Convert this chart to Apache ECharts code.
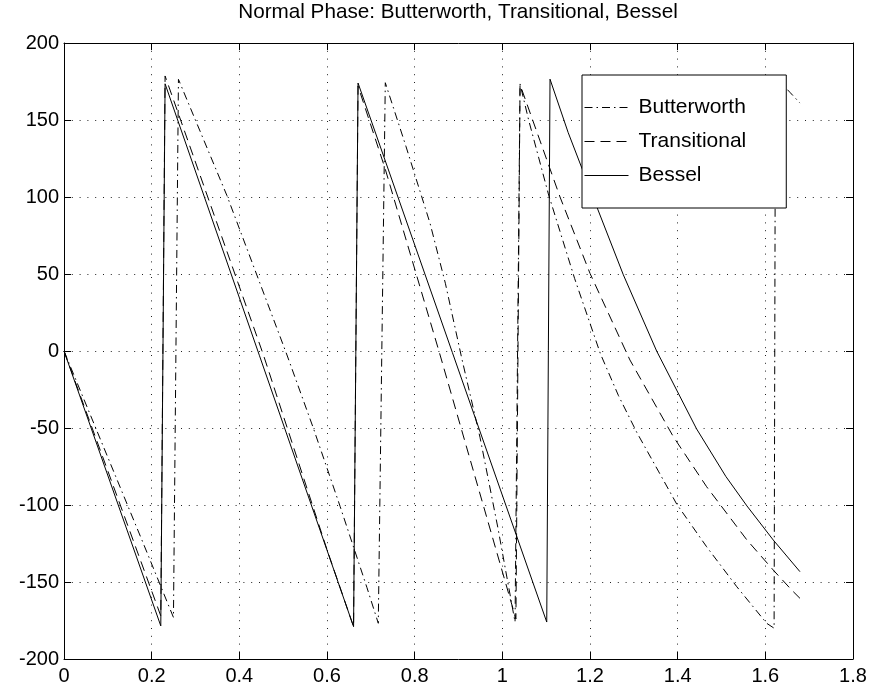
<!DOCTYPE html>
<html lang="en">

<head>
    <meta charset="UTF-8">
    <title>Normal Phase</title>
    <script src="https://cdn.jsdelivr.net/npm/echarts@6/dist/echarts.min.js"></script>
    <style>
        html, body { margin: 0; padding: 0; background: #fff; }
    </style>
</head>

<body>
    <div id="main" style="width: 874px; height: 693px;"></div>
    <script type="text/javascript">
        // phase (degrees) against normalised frequency
        var butterX = [0, 0.181, 0.2497, 0.2611, 0.3716, 0.5087, 0.569, 0.630, 0.691, 0.717, 0.733, 0.78, 0.835, 0.87, 0.9074, 0.949, 0.99, 1.029, 1.0404, 1.06, 1.105, 1.165, 1.224, 1.265, 1.307, 1.356, 1.398, 1.466, 1.535, 1.603, 1.620, 1.623, 1.656, 1.679];
        var butterY = [0, -125, -173, 176.4, 101, -2.6, -50.2, -101, -153.5, -176.8, 174.2, 133, 83, 44, -4.7, -56, -115, -176, 173.4, 150, 102, 47, -2, -29, -53, -78, -99.5, -127.1, -153.1, -176.8, -180, 178, 168, 161];

        var transX = [0, 0.2208, 0.2306, 0.455, 0.60, 0.6606, 0.6708, 0.733, 0.858, 1.025, 1.031, 1.0404, 1.1316, 1.2, 1.291, 1.39, 1.466, 1.558, 1.618, 1.66, 1.679];
        var transY = [0, -172, 178.6, -2.6, -129, -179, 172, 118, -2.6, -168, -174, 173, 100, 50.4, -5.8, -55.6, -88.1, -122.7, -142.2, -155.2, -160.6];

        var besselX = [0, 0.2208, 0.2306, 0.6606, 0.6708, 1.1013, 1.1088, 1.15, 1.215, 1.276, 1.352, 1.443, 1.51, 1.558, 1.618, 1.679];
        var besselY = [0, -178.5, 173.5, -179, 174, -176, 176.5, 142, 94, 49.5, 0, -50.5, -81.5, -100.6, -122.7, -143.3];

        var seriesNames = ['Butterworth', 'Transitional', 'Bessel'];

        function pairs(xs, ys) {
            return xs.map(function (x, i) { return [x, ys[i]]; });
        }

        var font = '"Liberation Sans", Arial, Helvetica, sans-serif';
        var gridDots = { color: '#222', width: 1, type: [1, 6.8] };

        function xAxisDef(pos, labels) {
            return {
                type: 'value', position: pos, min: 0, max: 1.8, interval: 0.2,
                axisLine: { show: true, onZero: false, lineStyle: { color: '#000', width: 1 } },
                axisTick: { show: true, inside: true, length: 7, lineStyle: { color: '#000' } },
                axisLabel: {
                    show: labels, margin: 7, color: '#000', fontSize: 20, fontFamily: font,
                    showMinLabel: true, showMaxLabel: true
                },
                splitLine: { show: labels, lineStyle: gridDots }
            };
        }

        function yAxisDef(pos, labels) {
            return {
                type: 'value', position: pos, min: -200, max: 200, interval: 50,
                axisLine: { show: true, onZero: false, lineStyle: { color: '#000', width: 1 } },
                axisTick: { show: true, inside: true, length: 7, lineStyle: { color: '#000' } },
                axisLabel: {
                    show: labels, margin: 5, color: '#000', fontSize: 20, fontFamily: font,
                    showMinLabel: true, showMaxLabel: true
                },
                splitLine: { show: labels, lineStyle: gridDots }
            };
        }

        function lineSeries(name, xs, ys, dash) {
            return {
                name: name, type: 'line', xAxisIndex: 0, yAxisIndex: 0,
                data: pairs(xs, ys),
                symbol: 'none', showSymbol: false, animation: false,
                lineStyle: { color: '#000', width: 1, type: dash },
                itemStyle: { color: '#000' }
            };
        }

        var myChart = echarts.init(document.getElementById('main'));
        var option = {
            animation: false,
            backgroundColor: '#fff',
            title: {
                text: 'Normal Phase: Butterworth, Transitional, Bessel',
                left: 458, top: 2, textAlign: 'center',
                padding: 0,
                textStyle: { fontSize: 20.7, fontWeight: 'normal', color: '#000', fontFamily: font }
            },
            grid: { left: 64, right: 21, top: 43, bottom: 34, containLabel: false },
            legend: {
                orient: 'vertical', left: 582, top: 75,
                backgroundColor: '#fff', borderColor: '#000', borderWidth: 1,
                padding: [22, 40, 22, 2],
                itemWidth: 44, itemHeight: 20, itemGap: 13,
                itemStyle: { opacity: 0 },
                lineStyle: { width: 1, color: '#000' },
                textStyle: { fontSize: 21, color: '#000', fontFamily: font, padding: [0, 0, 0, 5] },
                data: seriesNames
            },
            xAxis: [xAxisDef('bottom', true), xAxisDef('top', false)],
            yAxis: [yAxisDef('left', true), yAxisDef('right', false)],
            series: [
                lineSeries(seriesNames[0], butterX, butterY, [8, 4, 1.5, 4]),
                lineSeries(seriesNames[1], transX, transY, [10, 6]),
                lineSeries(seriesNames[2], besselX, besselY, 'solid')
            ]
        };
        myChart.setOption(option);
    </script>

</body>

</html>
